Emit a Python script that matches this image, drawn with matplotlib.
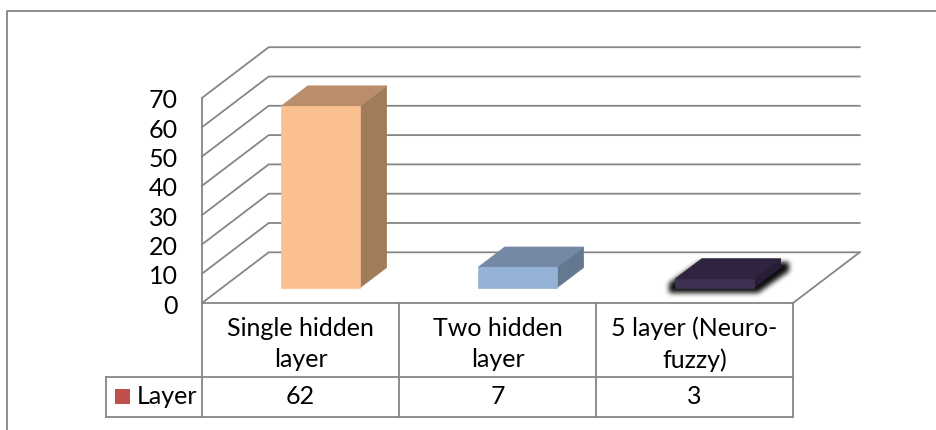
import matplotlib
matplotlib.use("Agg")
import matplotlib.pyplot as plt
from matplotlib.patches import Polygon, Rectangle
from matplotlib.path import Path
import numpy as np

# ---- data -------------------------------------------------------------
categories = ["Single hidden\nlayer", "Two hidden\nlayer", "5 layer (Neuro-\nfuzzy)"]
values = [62, 7, 3]
series_name = "Layer"
y_ticks = [0, 10, 20, 30, 40, 50, 60, 70]

# face colours per bar: front, top, side
front_colors = ["#FAC090", "#95B3D7", "#3F3151"]
top_colors = ["#BA8E6B", "#7389A6", "#30233F"]
side_colors = ["#A07C5B", "#64788F", "#281D36"]
shadowed = [False, False, True]

# ---- figure / coordinate system ----------------------------------------
W, H = 937, 430
fig = plt.figure(figsize=(W / 100, H / 100), dpi=100)
ax = fig.add_axes([0, 0, 1, 1])

X0, CAT_W = 202.0, 197.0       # floor front-left and width of one category (px)
Y0, PX_PER_UNIT = 303.0, 2.93  # floor front level and pixels per value unit
ax.set_xlim((0 - X0) / CAT_W, (W - X0) / CAT_W)
ax.set_ylim((Y0 - H) / PX_PER_UNIT, Y0 / PX_PER_UNIT)
ax.axis("off")


def px_x(p):
    return (p - X0) / CAT_W


def px_y(p):
    return (Y0 - p) / PX_PER_UNIT


# oblique depth offset for the 3-D walls
DX = 66.7 / CAT_W
DY = 50.7 / PX_PER_UNIT
n = len(categories)
vmax = y_ticks[-1]


def proj(x, v, d):
    return (x + d * DX, v + d * DY)


GRID = "#868686"
LW = 1.3
FONT = "Lato"
FS = 18

# outer chart-area border
ax.plot([px_x(7), px_x(7), px_x(W)], [px_y(H), px_y(11), px_y(11)],
        color=GRID, lw=LW, solid_capstyle="butt", zorder=1)

# walls: gridlines running along side wall then back wall
for t in y_ticks:
    p0 = proj(0, t, 0)
    p1 = proj(0, t, 1)
    p2 = proj(n, t, 1)
    ax.plot([p0[0], p1[0], p2[0]], [p0[1], p1[1], p2[1]],
            color=GRID, lw=LW, zorder=2)
# side wall front edge
ax.plot([0, 0], [0, vmax], color=GRID, lw=LW, zorder=2)
# floor front edge and right edge
f0, f1 = proj(n, 0, 0), proj(n, 0, 1)
ax.plot([0, n], [0, 0], color=GRID, lw=LW, zorder=2)
ax.plot([f0[0], f1[0]], [f0[1], f1[1]], color=GRID, lw=LW, zorder=2)

# value axis labels
label_drop = 3 / PX_PER_UNIT
for t in y_ticks:
    ax.text(px_x(178), t - label_drop, str(t), ha="right", va="center",
            fontsize=FS, family=FONT, color="black")

# ---- bars ---------------------------------------------------------------
BAR_W = 0.4
D0, D1 = 0.3, 0.7
for i, (v, fc, tc, sc, sh) in enumerate(zip(values, front_colors, top_colors,
                                             side_colors, shadowed)):
    xl = i + 0.5 - BAR_W / 2
    xr = i + 0.5 + BAR_W / 2
    front = [proj(xl, 0, D0), proj(xr, 0, D0), proj(xr, v, D0), proj(xl, v, D0)]
    top = [proj(xl, v, D0), proj(xr, v, D0), proj(xr, v, D1), proj(xl, v, D1)]
    side = [proj(xr, 0, D0), proj(xr, 0, D1), proj(xr, v, D1), proj(xr, v, D0)]

    if sh:
        # soft drop shadow under the bar outline
        outline = [proj(xl, 0, D0), proj(xr, 0, D0), proj(xr, 0, D1),
                   proj(xr, v, D1), proj(xl, v, D1), proj(xl, v, D0)]
        pxo = np.array([[X0 + a * CAT_W, Y0 - b * PX_PER_UNIT] for a, b in outline])
        pad = 24
        x_lo, x_hi = int(pxo[:, 0].min()) - pad, int(pxo[:, 0].max()) + pad
        y_lo, y_hi = int(pxo[:, 1].min()) - pad, int(pxo[:, 1].max()) + pad
        gx, gy = np.meshgrid(np.arange(x_lo, x_hi) + 0.5, np.arange(y_lo, y_hi) + 0.5)
        grown = pxo.copy()
        cx, cy = pxo[:, 0].mean(), pxo[:, 1].mean()
        grown[:, 0] = cx + (pxo[:, 0] - cx) * 1.14 + 1
        grown[:, 1] = cy + (pxo[:, 1] - cy) * 1.05 + 4
        mask = Path(grown).contains_points(
            np.column_stack([gx.ravel(), gy.ravel()])).reshape(gx.shape).astype(float)
        k = np.ones(5) / 5
        for _ in range(3):
            mask = np.apply_along_axis(lambda r: np.convolve(r, k, mode="same"), 1, mask)
            mask = np.apply_along_axis(lambda c: np.convolve(c, k, mode="same"), 0, mask)
        rgba = np.zeros(mask.shape + (4,))
        rgba[..., 3] = np.clip(mask * 0.95, 0, 1)
        ax.imshow(rgba, extent=(px_x(x_lo), px_x(x_hi), px_y(y_hi), px_y(y_lo)),
                  origin="upper", aspect="auto", zorder=3, interpolation="bilinear")

    for poly, col in ((side, sc), (top, tc), (front, fc)):
        ax.add_patch(Polygon(poly, closed=True, facecolor=col, edgecolor=col,
                             lw=0.5, zorder=4))

# ---- data table ---------------------------------------------------------
row1 = px_y(377)
row2 = px_y(417)
tbl_left = px_x(106)
# horizontal rules
ax.plot([tbl_left, n], [row1, row1], color=GRID, lw=LW, zorder=2)
ax.plot([tbl_left, n], [row2, row2], color=GRID, lw=LW, zorder=2)
# vertical rules
for j in range(n + 1):
    ax.plot([j, j], [0, row2], color=GRID, lw=LW, zorder=2)
ax.plot([tbl_left, tbl_left], [row1, row2], color=GRID, lw=LW, zorder=2)

cat_center = px_y(344)
for j, (cat, v) in enumerate(zip(categories, values)):
    ax.text(j + 0.5, cat_center, cat, ha="center", va="center", fontsize=FS,
            family=FONT, linespacing=1.45)
    ax.text(j + 0.5, (row1 + row2) / 2, str(v), ha="center", va="center",
            fontsize=FS, family=FONT)

# series key in the table
ax.add_patch(Rectangle((px_x(115), px_y(404)), px_x(130) - px_x(115),
                       px_y(389) - px_y(404), facecolor="#C0504D",
                       edgecolor="none", zorder=4))
ax.text(px_x(137), (row1 + row2) / 2, series_name, ha="left", va="center",
        fontsize=FS, family=FONT)

fig.savefig("out.png", dpi=100, facecolor="white")
